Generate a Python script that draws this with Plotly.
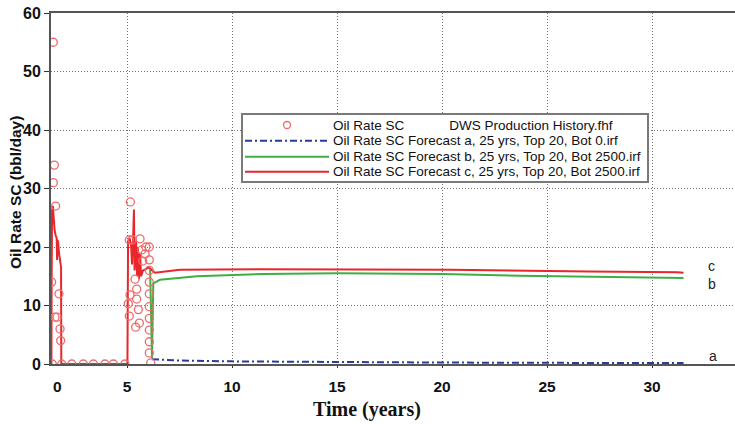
import plotly.graph_objects as go

# ---- data (time in axis units, rate in bbl/day) ----
hist_t = [1.41, 1.44, 1.49, 1.49, 1.54, 1.60, 1.57, 1.67, 1.76, 1.81, 1.84, 1.89,
          2.37, 2.92, 3.40, 3.95, 4.35, 4.90,
          5.16, 5.11, 5.25, 5.62, 6.06, 5.90, 5.70, 5.86, 6.06, 5.75, 5.38, 5.14,
          5.46, 5.06, 5.46, 5.54, 5.11, 5.59, 5.41,
          6.06, 6.06, 6.06, 6.06, 6.06, 6.06, 6.06, 6.06, 6.13]
hist_q = [14, 0, 55, 31, 34, 27, 8, 8, 12, 6, 4, 0,
          0, 0, 0, 0, 0, 0,
          27.7, 21.2, 21.2, 21.4, 20, 20, 19.5, 18.8, 17.8, 17.6, 14.5, 11.8,
          12.8, 10.3, 11.1, 9.3, 8.2, 7.0, 6.3,
          16, 14, 12, 9.8, 7.8, 5.8, 3.8, 1.9, 0.2]

a_t = [6.19, 7.5, 10, 15, 20, 25, 31.5]
a_q = [0.8, 0.6, 0.45, 0.3, 0.25, 0.2, 0.15]

b_t = [6.10, 6.19, 6.25, 6.57, 8.32, 11.5, 15, 20, 23.7, 27, 29, 31.5]
b_q = [16.1, 1.0, 13.8, 14.4, 15.0, 15.4, 15.5, 15.4, 15.1, 14.9, 14.8, 14.7]

c_t = [1.38, 1.40, 1.41, 1.43, 1.47, 1.52, 1.55, 1.60, 1.65, 1.67, 1.69, 1.72, 1.76,
       1.81, 1.86, 1.87, 4.95, 5.02, 5.05, 5.12, 5.19, 5.24, 5.29, 5.33, 5.36, 5.43,
       5.48, 5.52, 5.57, 5.62, 5.67, 5.76, 5.90, 6.00, 6.10, 6.33, 7.52, 11.5, 20.4,
       23.7, 27, 31.2, 31.5]
c_q = [0, 0, 14, 26.3, 27, 24, 22.9, 22, 21.5, 17.8, 21.2, 20.8, 19,
       17.5, 16.5, 0, 0, 0, 21, 21.5, 20.5, 17, 21.5, 26.4, 16, 21,
       15, 20, 14.5, 19, 15, 16, 16.2, 16.5, 16.3, 15.6, 16.1, 16.2, 16.1,
       15.9, 15.8, 15.7, 15.6]

x_ticks = [5, 10, 15, 20, 25, 30]
y_ticks = [0, 10, 20, 30, 40, 50, 60]

legend_labels = [
    "Oil Rate SC" + "\u00a0" * 12 + "DWS Production History.fhf",
    "Oil Rate SC Forecast a, 25 yrs, Top 20, Bot 0.irf",
    "Oil Rate SC Forecast b, 25 yrs, Top 20, Bot 2500.irf",
    "Oil Rate SC Forecast c, 25 yrs, Top 20, Bot 2500.irf",
]

RED = "#e8262b"
MRED = "#f06a6a"
GREEN = "#3cb044"
BLUE = "#2a3b9e"
SANS = "Liberation Sans, Arial, sans-serif"
SERIF = "Liberation Serif, Times New Roman, serif"

fig = go.Figure()
fig.add_trace(go.Scatter(x=a_t, y=a_q, mode="lines",
                         line=dict(color=BLUE, width=2, dash="7px,3px,2px,3px"),
                         showlegend=False))
fig.add_trace(go.Scatter(x=b_t, y=b_q, mode="lines",
                         line=dict(color=GREEN, width=2), showlegend=False))
fig.add_trace(go.Scatter(x=c_t, y=c_q, mode="lines",
                         line=dict(color=RED, width=2), showlegend=False))
fig.add_trace(go.Scatter(x=hist_t, y=hist_q, mode="markers",
                         marker=dict(symbol="circle-open", size=8,
                                     color=MRED, line=dict(width=1.3, color=MRED)),
                         showlegend=False))

# ---- manual legend ----
def px_x(p):
    return (p - 51) / 684.0

def px_y(p):
    return (364 - p) / 351.0

shapes = [dict(type="rect", xref="paper", yref="paper",
               x0=px_x(242), x1=px_x(648), y0=px_y(182), y1=px_y(114),
               fillcolor="white", line=dict(color="#7a7a7a", width=2), layer="above")]
rows = [125, 140.7, 156.7, 171.7]
styles = [None, dict(color=BLUE, width=2, dash="7px,3px,2px,3px"),
          dict(color=GREEN, width=2), dict(color=RED, width=2)]
annotations = []
for i, (ry, st) in enumerate(zip(rows, styles)):
    if st is None:
        shapes.append(dict(type="circle", xref="paper", yref="paper",
                           xsizemode="pixel", ysizemode="pixel",
                           xanchor=px_x(287), yanchor=px_y(ry),
                           x0=-3.5, x1=3.5, y0=-3.5, y1=3.5,
                           line=dict(color=MRED, width=1.3), layer="above"))
    else:
        shapes.append(dict(type="line", xref="paper", yref="paper",
                           x0=px_x(245), x1=px_x(329), y0=px_y(ry), y1=px_y(ry),
                           line=st, layer="above"))
    annotations.append(dict(xref="paper", yref="paper", x=px_x(331), y=px_y(ry),
                            xanchor="left", yanchor="middle", showarrow=False,
                            text=legend_labels[i],
                            font=dict(family=SANS, size=13.5, color="#111")))

# curve labels
for lab, xv, yv in [("c", 32.55, 16.8), ("b", 32.55, 13.7), ("a", 32.6, 1.4)]:
    annotations.append(dict(x=xv, y=yv, xref="x", yref="y", text=lab, showarrow=False,
                            xanchor="left", yanchor="middle",
                            font=dict(family=SANS, size=14, color="#222")))

# "0" tick label at left edge and titles
annotations.append(dict(x=1.71, y=px_y(386), xref="x", yref="paper", text="<b>0</b>",
                        showarrow=False, xanchor="center", yanchor="middle",
                        font=dict(family=SANS, size=15.5, color="#111")))
annotations.append(dict(x=px_x(367), y=px_y(409), xref="paper", yref="paper",
                        text="<b>Time (years)</b>", showarrow=False,
                        xanchor="center", yanchor="middle",
                        font=dict(family=SERIF, size=20, color="#111")))
annotations.append(dict(x=px_x(16), y=px_y(193), xref="paper", yref="paper",
                        text="<b>Oil Rate SC (bbl/day)</b>", showarrow=False,
                        textangle=-90, xanchor="center", yanchor="middle",
                        font=dict(family=SANS, size=15.5, color="#111")))

fig.update_layout(
    width=735, height=424,
    margin=dict(l=51, r=0, t=13, b=60),
    paper_bgcolor="white", plot_bgcolor="white",
    shapes=shapes, annotations=annotations,
    xaxis=dict(range=[1.38, 33.95], tickvals=x_ticks,
               ticktext=[f"<b>{v}</b>" for v in x_ticks],
               showgrid=True, gridcolor="#707070", griddash="1px,2px", gridwidth=1.3,
               showline=True, linecolor="#555", linewidth=2, mirror=True,
               ticks="outside", ticklen=2, tickcolor="#333",
               ticklabelstandoff=5,
               tickfont=dict(family=SANS, size=15.5, color="#111"),
               zeroline=False),
    yaxis=dict(range=[0, 60], tickvals=y_ticks,
               ticktext=[f"<b>{v}</b>" for v in y_ticks],
               showgrid=True, gridcolor="#707070", griddash="1px,2px", gridwidth=1.3,
               showline=True, linecolor="#555", linewidth=2,
               ticks="outside", ticklen=5, tickcolor="#333",
               tickfont=dict(family=SANS, size=16, color="#111"),
               zeroline=False),
)

fig.write_html("out.html")
